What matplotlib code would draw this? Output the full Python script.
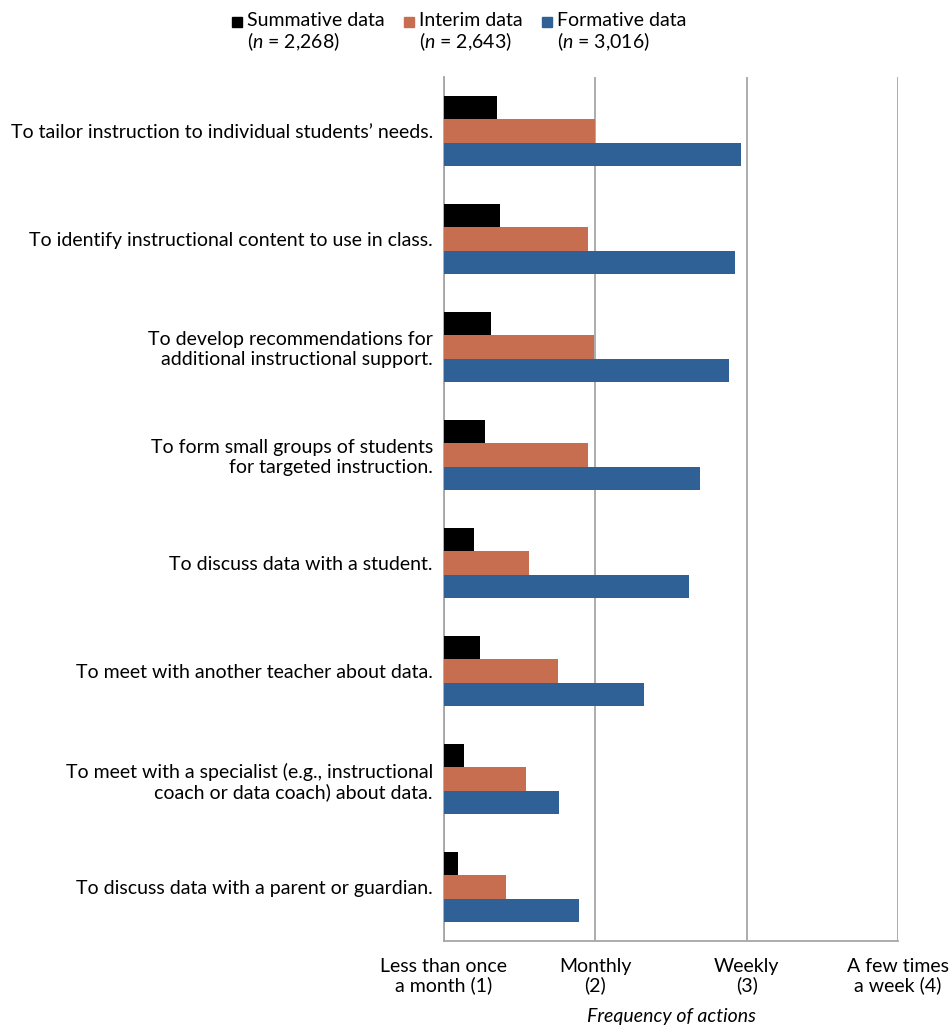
import matplotlib
matplotlib.use('Agg')
import matplotlib.pyplot as plt
from matplotlib.patches import Rectangle
import numpy as np

# data (frequency scale 1-4)
actions = [
    "To tailor instruction to individual students\u2019 needs.",
    "To identify instructional content to use in class.",
    "To develop recommendations for\nadditional instructional support.",
    "To form small groups of students\nfor targeted instruction.",
    "To discuss data with a student.",
    "To meet with another teacher about data.",
    "To meet with a specialist (e.g., instructional\ncoach or data coach) about data.",
    "To discuss data with a parent or guardian.",
]
summative = [1.35, 1.37, 1.31, 1.27, 1.20, 1.24, 1.13, 1.09]
interim = [2.00, 1.95, 1.99, 1.95, 1.56, 1.75, 1.54, 1.41]
formative = [2.96, 2.92, 2.88, 2.69, 2.62, 2.32, 1.76, 1.89]
series_names = ["Summative data", "Interim data", "Formative data"]
series_n = ["2,268", "2,643", "3,016"]
colors = ["#000000", "#C86E50", "#2F6096"]
xtick_labels = ["Less than once\na month (1)", "Monthly\n(2)", "Weekly\n(3)", "A few times\na week (4)"]

plt.rcParams['font.family'] = ['Lato', 'DejaVu Sans']
plt.rcParams['mathtext.fontset'] = 'custom'
plt.rcParams['mathtext.it'] = 'Lato:italic'
plt.rcParams['mathtext.rm'] = 'Lato'

fs = 14

fig = plt.figure(figsize=(9.52, 10.27), dpi=100)
ax = fig.add_axes([444/952, 86/1027, 454/952, 864/1027])

y = np.arange(len(actions))
h = 0.218
for i, vals in enumerate([summative, interim, formative]):
    ax.barh(y + (i - 1) * h, np.array(vals) - 1, left=1, height=h, color=colors[i], zorder=3)

ax.set_xlim(1, 4)
ax.set_ylim(len(actions) - 0.5, -0.5)
ax.set_xticks([1, 2, 3, 4])
ax.set_xticklabels(xtick_labels, fontsize=fs, linespacing=1.1)
ax.set_yticks(y)
ax.set_yticklabels(actions, fontsize=fs, ha='right', linespacing=1.15)
ax.tick_params(length=0, pad=8)
ax.tick_params(axis='x', pad=12)
ax.grid(axis='x', color='#A6A6A6', linewidth=1.3, zorder=0)
for s in ['top', 'right']:
    ax.spines[s].set_visible(False)
for s in ['left', 'bottom']:
    ax.spines[s].set_color('#A6A6A6')
    ax.spines[s].set_linewidth(1.3)
ax.set_xlabel("Frequency of actions", fontsize=fs, style='italic', labelpad=10)

# legend
leg_x = [232, 404, 542]
for i in range(3):
    x0 = leg_x[i] / 952
    fig.patches.append(Rectangle((x0, 1 - 27/1027), 10/952, 10/1027,
                                 transform=fig.transFigure, color=colors[i]))
    fig.text(x0 + 15/952, 1 - 20/1027, series_names[i], fontsize=fs, va='center')
    fig.text(x0 + 15/952, 1 - 42/1027, "($n$ = " + series_n[i] + ")", fontsize=fs, va='center')

fig.savefig("out.png", dpi=100)
